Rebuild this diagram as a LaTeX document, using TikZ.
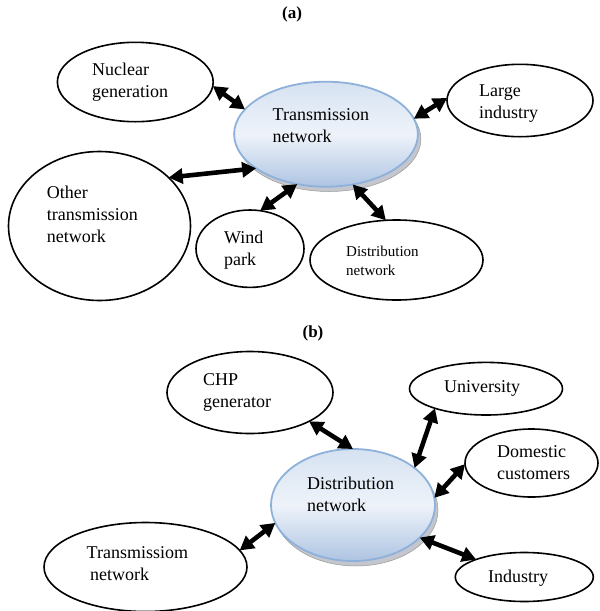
\documentclass[tikz,border=0pt]{standalone}
\usepackage{fontspec}
\setmainfont{Liberation Serif}
\usetikzlibrary{shapes.geometric,arrows.meta}
\definecolor{hubline}{HTML}{8EB1DB}
\definecolor{hubtop}{HTML}{D6E2F1}
\definecolor{hubmid}{HTML}{EEF3FA}
\definecolor{hubbot}{HTML}{AEC4E2}
\definecolor{hubshade}{HTML}{A9AFB8}
\tikzset{
  oval/.style={ellipse, draw=black, line width=1.6pt, inner sep=0pt, outer sep=0pt},
  hub/.style={ellipse, draw=hubline, line width=1.8pt, inner sep=0pt, outer sep=0pt,
    top color=hubtop, bottom color=hubbot, middle color=hubmid},
  hubshadow/.style={ellipse, fill=hubshade!70, draw=gray!80, line width=0.5pt, inner sep=0pt, outer sep=0pt},
  lbl/.style={anchor=west, align=left, inner sep=0pt, font=\fontsize{18}{22}\selectfont},
  smalllbl/.style={lbl, font=\fontsize{15}{19}\selectfont},
  paneltitle/.style={font=\fontsize{17}{19}\selectfont\bfseries, inner sep=0pt},
  link/.style={line width=4.6pt, {Triangle[length=14pt,width=15pt]}-{Triangle[length=14pt,width=15pt]}},
}
\begin{document}
\begin{tikzpicture}[x=1pt,y=-1pt]
\useasboundingbox (0,0) rectangle (600,611);

% ---------------- panel (a): transmission level ----------------
\node[paneltitle] (ta) at (292,14) {(a)};

\node[hubshadow, minimum width=183.8pt, minimum height=105pt] (trshadow) at (329,139) {};
\node[hub, minimum width=183.8pt, minimum height=105pt] (tr) at (326,134.2) {};
\node[oval, minimum width=155.8pt, minimum height=79.4pt] (nuc) at (135.3,82) {};
\node[oval, minimum width=146pt, minimum height=72.4pt] (lg) at (520,100.5) {};
\node[oval, minimum width=182pt, minimum height=149pt] (oth) at (99.5,226) {};
\node[oval, minimum width=108pt, minimum height=77.4pt] (wind) at (250,248.7) {};
\node[oval, minimum width=173pt, minimum height=80pt] (dsa) at (396.5,260) {};

\node[lbl] (trtxt) at (272.5,126) {Transmission\\network};
\node[lbl] (nuctxt) at (92,82.5) {Nuclear\\generation};
\node[lbl] (lgtxt) at (479,104) {Large\\industry};
\node[lbl] (othtxt) at (46.7,214) {Other\\transmission\\network};
\node[lbl] (windtxt) at (224,250.5) {Wind\\park};
\node[smalllbl] (dsatxt) at (346,260.5) {Distribution\\network};

\draw[link] (nuc.-3) -- (tr.163);
\draw[link] (tr.10) -- (lg.178.5);
\draw[link] (oth.35.4) -- (tr.206);
\draw[link] (wind.75) -- (tr.-120);
\draw[link] (tr.-62.6) -- (dsa.105);

% ---------------- panel (b): distribution level ----------------
\node[paneltitle] (tb) at (313,333) {(b)};

\node[hubshadow, minimum width=164pt, minimum height=112pt] (dsbshadow) at (356,510) {};
\node[hub, minimum width=164pt, minimum height=112pt] (dsb) at (353,505) {};
\node[oval, minimum width=166pt, minimum height=82pt] (chp) at (250,392.5) {};
\node[oval, minimum width=153pt, minimum height=52.6pt] (uni) at (486,388.7) {};
\node[oval, minimum width=133pt, minimum height=68pt] (dom) at (531.5,463) {};
\node[oval, minimum width=203pt, minimum height=89pt] (trb) at (145.5,567) {};
\node[oval, minimum width=138pt, minimum height=49pt] (ind) at (524.3,577) {};

\node[lbl] (dsbtxt) at (307,494) {Distribution\\network};
\node[lbl] (chptxt) at (203,392) {CHP\\generator};
\node[lbl] (unitxt) at (444,388) {University};
\node[lbl] (domtxt) at (497,463) {Domestic\\customers};
\node[lbl] (trbtxt) at (86.5,564) {Transmissiom\\\hspace*{3.5pt}network};
\node[lbl] (indtxt) at (488,578) {Industry};

\draw[link] (chp.-26.6) -- (dsb.90);
\draw[link] (uni.201) -- (dsb.31);
\draw[link] (dom.181.7) -- (dsb.5.5);
\draw[link] (trb.10) -- (dsb.193.7);
\draw[link] (dsb.-26.6) -- (ind.160);
\end{tikzpicture}
\end{document}
